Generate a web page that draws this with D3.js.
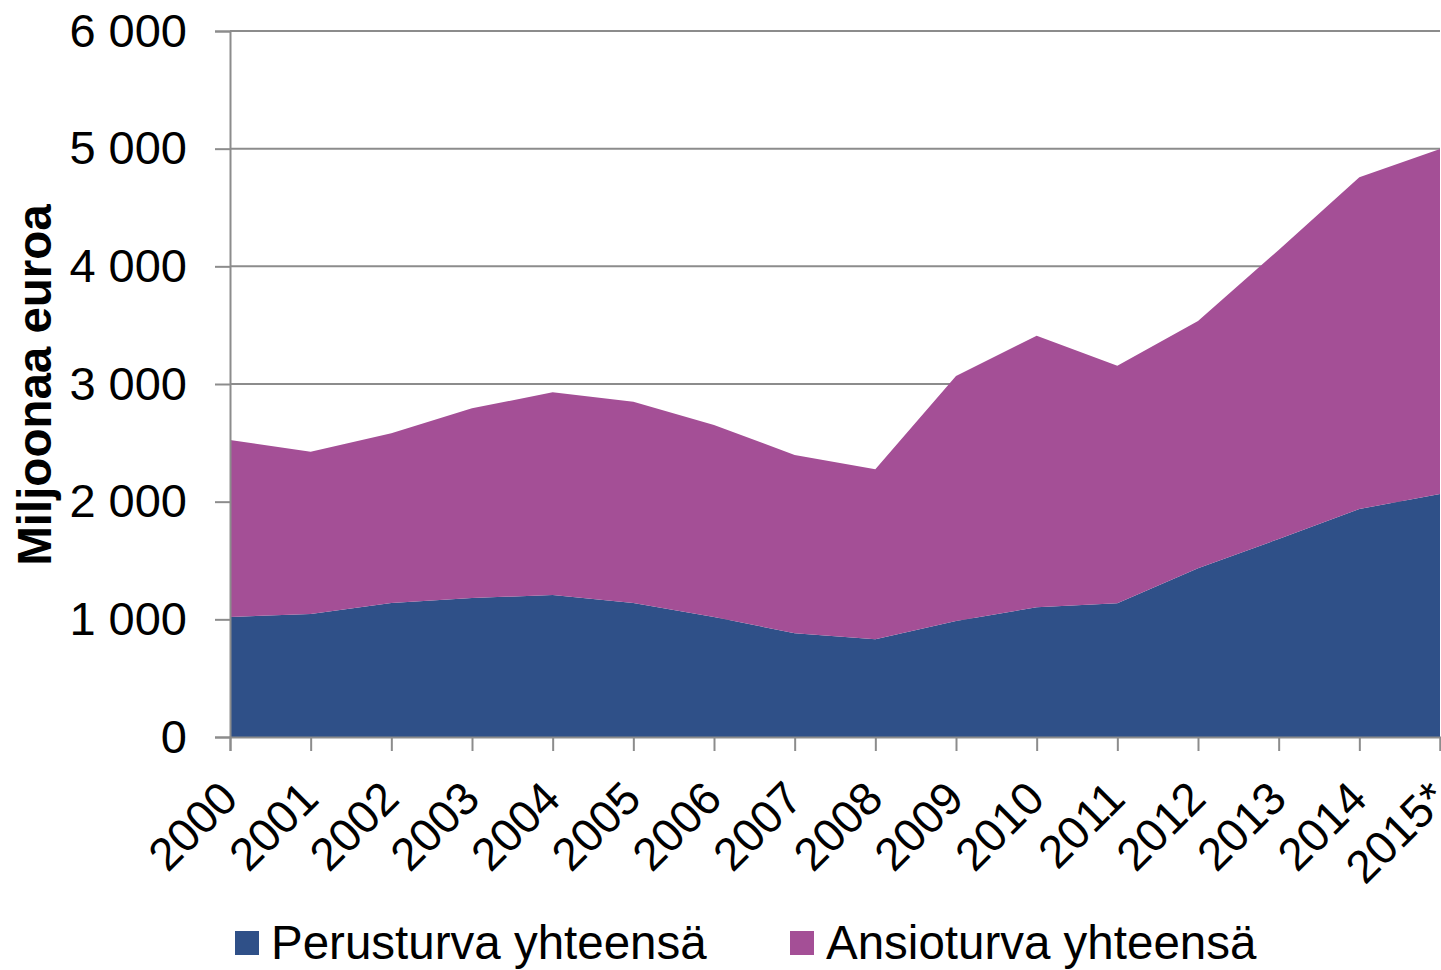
<!DOCTYPE html>
<meta charset="utf-8">
<html>
<script src="https://d3js.org/d3.v7.min.js"></script>
<style>
  body { margin: 0; background: #fff; }
  text { font-family: "Liberation Sans", Arial, sans-serif; }
</style>
<body>
<div id="chart"></div>
<script>

// data (million euros)
var years = ["2000", "2001", "2002", "2003", "2004", "2005", "2006", "2007",
             "2008", "2009", "2010", "2011", "2012", "2013", "2014", "2015*"];
var perusturva = [1020, 1045, 1139, 1181, 1207, 1139, 1020, 881,
                  830, 986, 1102, 1136, 1434, 1683, 1938, 2065];
var ansioturva = [1504, 1380, 1442, 1612, 1722, 1711, 1631, 1516,
                  1445, 2082, 2308, 2019, 2101, 2456, 2819, 2932];
var seriesNames = ["Perusturva yhteensä", "Ansioturva yhteensä"];
var yTicks = [0, 1000, 2000, 3000, 4000, 5000, 6000];

var width = 1441,
    height = 970;
var plotLeft = 230, plotRight = 1440, plotTop = 31, plotBottom = 737;

var colors = ["#2f5088", "#a44f96"];

var svg = d3.select("#chart")
  .append("svg")
    .attr("width", width)
    .attr("height", height);

var x = d3.scalePoint()
  .domain(years)
  .range([plotLeft, plotRight]);

var y = d3.scaleLinear()
  .domain([0, 6000])
  .range([plotBottom, plotTop]);

var fmt = d3.formatLocale({decimal: ",", thousands: " ", grouping: [3], currency: ["", "€"]}).format(",");

// gridlines
svg.append("g")
  .selectAll("line")
  .data(yTicks.slice(1))
  .enter().append("line")
    .attr("x1", plotLeft)
    .attr("x2", plotRight)
    .attr("y1", function(d) { return y(d); })
    .attr("y2", function(d) { return y(d); })
    .attr("stroke", "#8c8c8c")
    .attr("stroke-width", 2);

// stacked areas
var table = years.map(function(yr, i) {
  return {year: yr, p: perusturva[i], a: ansioturva[i]};
});
var stacked = d3.stack().keys(["p", "a"])(table);

var area = d3.area()
  .x(function(d) { return x(d.data.year); })
  .y0(function(d) { return y(d[0]); })
  .y1(function(d) { return y(d[1]); });

svg.append("g")
  .selectAll("path")
  .data(stacked)
  .enter().append("path")
    .attr("d", area)
    .attr("fill", function(d, i) { return colors[i]; });

// y axis
var yAxis = svg.append("g")
  .attr("transform", "translate(" + plotLeft + ",0)")
  .call(d3.axisLeft(y).tickValues(yTicks).tickSize(15).tickPadding(28).tickFormat(fmt));
yAxis.select(".domain").attr("stroke", "#8c8c8c").attr("stroke-width", 2);
yAxis.selectAll(".tick line").attr("stroke", "#8c8c8c").attr("stroke-width", 2);
yAxis.selectAll("text")
  .attr("font-family", "Liberation Sans, Arial, sans-serif")
  .attr("font-size", 47)
  .attr("fill", "#000");

// x axis
var xAxis = svg.append("g")
  .attr("transform", "translate(0," + plotBottom + ")")
  .call(d3.axisBottom(x).tickSize(14).tickFormat(""));
xAxis.select(".domain").attr("stroke", "#8c8c8c").attr("stroke-width", 2);
xAxis.selectAll(".tick line").attr("stroke", "#8c8c8c").attr("stroke-width", 2);

svg.append("g")
  .selectAll("text")
  .data(years)
  .enter().append("text")
    .attr("transform", function(d) { return "translate(" + (x(d) - 13) + ",778) rotate(-45)"; })
    .attr("text-anchor", "end")
    .attr("dy", "0.71em")
    .attr("font-size", 46)
    .attr("fill", "#000")
    .text(function(d) { return d; });

// y title
svg.append("text")
  .attr("transform", "translate(51,385) rotate(-90)")
  .attr("text-anchor", "middle")
  .attr("font-size", 47.5)
  .attr("font-weight", "bold")
  .attr("fill", "#000")
  .text("Miljoonaa euroa");

// legend
var legendX = [235, 790];
var legend = svg.selectAll(".legend")
  .data(seriesNames)
  .enter().append("g")
    .attr("class", "legend")
    .attr("transform", function(d, i) { return "translate(" + legendX[i] + ",931)"; });

legend.append("rect")
  .attr("width", 24)
  .attr("height", 24)
  .attr("fill", function(d, i) { return colors[i]; });

legend.append("text")
  .attr("x", 36)
  .attr("y", 28)
  .attr("font-size", 47.5)
  .attr("fill", "#000")
  .text(function(d) { return d; });

</script>
</body>
</html>
